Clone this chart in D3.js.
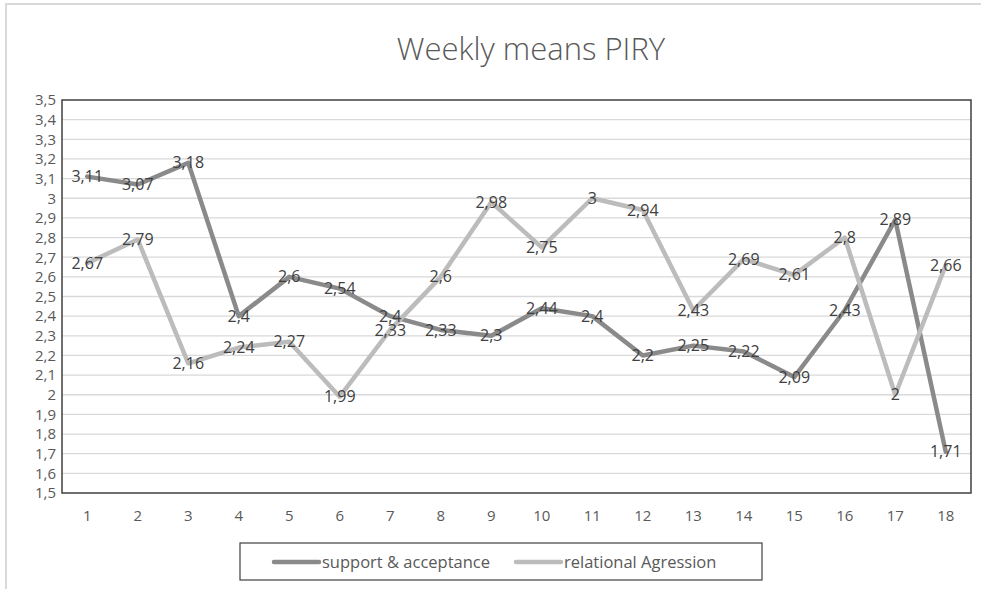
<!DOCTYPE html>
<html>
<head>
<meta charset="utf-8">
<script src="https://cdn.jsdelivr.net/npm/d3@7/dist/d3.min.js"></script>
<style>
  html, body { margin: 0; padding: 0; background: #fff; }
  svg { display: block; font-family: "Open Sans", "Noto Sans", sans-serif; }
</style>
</head>
<body>
<svg id="chart" width="981" height="589"></svg>
<script>
const title = "Weekly means PIRY";
const weeks = ["1","2","3","4","5","6","7","8","9","10","11","12","13","14","15","16","17","18"];
const seriesNames = ["support & acceptance", "relational Agression"];
const supportValues = [3.11, 3.07, 3.18, 2.4, 2.6, 2.54, 2.4, 2.33, 2.3, 2.44, 2.4, 2.2, 2.25, 2.22, 2.09, 2.43, 2.89, 1.71];
const relationalValues = [2.67, 2.79, 2.16, 2.24, 2.27, 1.99, 2.33, 2.6, 2.98, 2.75, 3, 2.94, 2.43, 2.69, 2.61, 2.8, 2, 2.66];
const yTicks = [1.5,1.6,1.7,1.8,1.9,2,2.1,2.2,2.3,2.4,2.5,2.6,2.7,2.8,2.9,3,3.1,3.2,3.3,3.4,3.5];
const seriesColors = ["#8a8a8a", "#bcbcbc"];

const fmt = v => String(+v.toFixed(2)).replace(".", ",");

const svg = d3.select("#chart");
const plot = { left: 62, top: 100, right: 971, bottom: 493 };

// outer chart border
svg.append("rect")
  .attr("x", 6).attr("y", 4).attr("width", 1000).attr("height", 640)
  .attr("fill", "#fff").attr("stroke", "#d9d9d9").attr("stroke-width", 2);

// title
svg.append("text")
  .attr("x", 531).attr("y", 60)
  .attr("text-anchor", "middle")
  .attr("font-size", 31).attr("font-weight", 300)
  .attr("fill", "#595959")
  .text(title);

const x = d3.scaleBand().domain(weeks).range([plot.left, plot.right]);
const y = d3.scaleLinear().domain([1.5, 3.5]).range([plot.bottom, plot.top]);

// gridlines
svg.append("g")
  .selectAll("line").data(yTicks.filter(t => t > 1.5 && t < 3.5)).join("line")
  .attr("x1", plot.left).attr("x2", plot.right)
  .attr("y1", d => y(d)).attr("y2", d => y(d))
  .attr("stroke", "#d9d9d9").attr("stroke-width", 1.3);

// y axis labels
const yAxis = d3.axisLeft(y).tickValues(yTicks).tickFormat(fmt).tickSize(0).tickPadding(6);
const gy = svg.append("g").attr("transform", `translate(${plot.left},0)`).call(yAxis);
gy.select(".domain").remove();
gy.selectAll("text").attr("font-size", 15).attr("fill", "#595959").attr("font-family", "Open Sans, sans-serif");

// x axis labels
const xAxis = d3.axisBottom(x).tickSize(0).tickPadding(17);
const gx = svg.append("g").attr("transform", `translate(0,${plot.bottom})`).call(xAxis);
gx.select(".domain").remove();
gx.selectAll("text").attr("font-size", 15).attr("fill", "#595959").attr("font-family", "Open Sans, sans-serif");

// plot border
svg.append("rect")
  .attr("x", plot.left).attr("y", plot.top)
  .attr("width", plot.right - plot.left).attr("height", plot.bottom - plot.top)
  .attr("fill", "none").attr("stroke", "#404040").attr("stroke-width", 1.5);

const allSeries = [supportValues, relationalValues];
const line = d3.line()
  .x((d, i) => x(weeks[i]) + x.bandwidth() / 2)
  .y(d => y(d));

allSeries.forEach((vals, si) => {
  svg.append("path")
    .datum(vals)
    .attr("d", line)
    .attr("fill", "none")
    .attr("stroke", seriesColors[si])
    .attr("stroke-width", 4.5)
    .attr("stroke-linejoin", "round")
    .attr("stroke-linecap", "round");
});

allSeries.forEach((vals, si) => {
  svg.append("g").selectAll("text").data(vals).join("text")
    .attr("x", (d, i) => x(weeks[i]) + x.bandwidth() / 2)
    .attr("y", d => y(d))
    .attr("dy", "0.35em")
    .attr("text-anchor", "middle")
    .attr("font-size", 16)
    .attr("fill", "#404040")
    .text(d => fmt(d));
});

// legend
const lg = svg.append("g");
lg.append("rect")
  .attr("x", 240).attr("y", 543).attr("width", 522).attr("height", 37)
  .attr("fill", "none").attr("stroke", "#404040").attr("stroke-width", 1.2);
const legendX = [274, 516];
seriesNames.forEach((name, i) => {
  lg.append("line")
    .attr("x1", legendX[i]).attr("x2", legendX[i] + 45)
    .attr("y1", 562).attr("y2", 562)
    .attr("stroke", seriesColors[i]).attr("stroke-width", 4.5)
    .attr("stroke-linecap", "round");
  lg.append("text")
    .attr("x", legendX[i] + 48).attr("y", 562).attr("dy", "0.35em")
    .attr("font-size", 16.5).attr("fill", "#595959")
    .text(name);
});
</script>
</body>
</html>
